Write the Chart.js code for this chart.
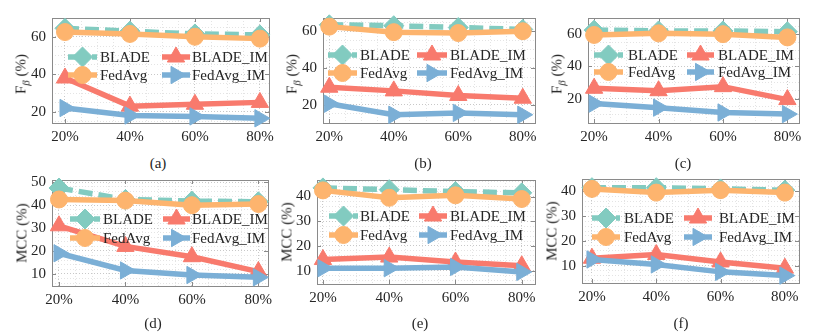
<!DOCTYPE html>
<html>
<head>
<meta charset="utf-8">
<script src="https://cdn.jsdelivr.net/npm/chart.js@4.4.0/dist/chart.umd.min.js"></script>
<style>
  body { margin: 0; background: #fff; width: 832px; height: 334px; position: relative; overflow: hidden; font-family: 'Liberation Serif', serif; color: #262626; }
  .panel { position: absolute; }
  .ytitle { position: absolute; transform: translate(-50%, -50%) rotate(-90deg); font-size: 15px; white-space: nowrap; }
  .ytitle sub { font-style: italic; font-size: 11px; }
  .caption { position: absolute; transform: translate(-50%, -50%); font-size: 15px; }
</style>
</head>
<body>
<script>
// Datos del gráfico
const etiquetasX = ['20%', '40%', '60%', '80%'];
const posicionesX = [20, 40, 60, 80];
const nombresSeries = ['BLADE', 'BLADE_IM', 'FedAvg', 'FedAvg_IM'];
const titulosPaneles = ['(a)', '(b)', '(c)', '(d)', '(e)', '(f)'];

// (a) F_beta
const bladeA = [64.5, 63, 61.5, 61];
const bladeImA = [38, 23, 24, 25];
const fedAvgA = [62.5, 61.5, 60, 59];
const fedAvgImA = [22, 18, 17.5, 16.5];
// (b) F_beta
const bladeB = [63.5, 63, 62, 61];
const bladeImB = [29.5, 27.5, 25, 23.5];
const fedAvgB = [62.5, 59.5, 59, 60];
const fedAvgImB = [20.5, 14.5, 15.5, 14.5];
// (c) F_beta
const bladeC = [62.5, 62, 62, 61.5];
const bladeImC = [26.5, 25, 27.5, 19.5];
const fedAvgC = [59.5, 60.5, 60, 58];
const fedAvgImC = [17, 14.5, 11.5, 10.5];
// (d) MCC
const bladeD = [47.5, 42.5, 41.8, 41.5];
const bladeImD = [31, 22, 17.5, 11];
const fedAvgD = [42.5, 42, 40, 40.5];
const fedAvgImD = [19, 11.5, 9.5, 8.5];
// (e) MCC
const bladeE = [43.5, 42.8, 42, 41.5];
const bladeImE = [14.5, 15.5, 13.5, 12];
const fedAvgE = [42.5, 39.5, 40.5, 39];
const fedAvgImE = [11, 11, 11.5, 9.5];
// (f) MCC
const bladeF = [41.5, 41.5, 41, 40.5];
const bladeImF = [13, 14.5, 11.5, 9];
const fedAvgF = [41, 39.5, 40.5, 39.5];
const fedAvgImF = [12.5, 10.5, 7.5, 6];

// Estilos de las series
const estilos = [
  { color: '#82cbc0', punto: 'rectRot', radio: 10, rot: 0, dash: [14, 6], orden: 4 },
  { color: '#f87a6d', punto: 'triangle', radio: 10, rot: 0, dash: [], orden: 3 },
  { color: '#fdb46e', punto: 'circle', radio: 8.5, rot: 0, dash: [], orden: 2 },
  { color: '#7bafd6', punto: 'triangle', radio: 10, rot: 90, dash: [], orden: 1 }
];

// Geometría de cada panel (área del gráfico en píxeles de la página)
const paneles = [
  { datos: [bladeA, bladeImA, fedAvgA, fedAvgImA], area: [52, 13, 269, 123], x: [16, 82.8], y: [14, 70], mayor: 20, menor: 5, titulo: 'F', leyenda: { c1: [16, 45, 48], c2: [110, 138, 140], filas: [39, 57] }, cap: [158, 163] },
  { datos: [bladeB, bladeImB, fedAvgB, fedAvgImB], area: [323, 13, 535, 123], x: [18.05, 83.8], y: [10, 67.2], mayor: 20, menor: 5, titulo: 'F', leyenda: { c1: [5, 34, 37], c2: [94, 124, 127], filas: [37, 55] }, cap: [423, 163] },
  { datos: [bladeC, bladeImC, fedAvgC, fedAvgImC], area: [588, 13, 799, 123], x: [18.1, 83.6], y: [5, 70], mayor: 20, menor: 5, titulo: 'F', leyenda: { c1: [6, 35, 40], c2: [99, 126, 130], filas: [37, 54] }, cap: [683, 163] },
  { datos: [bladeD, bladeImD, fedAvgD, fedAvgImD], area: [52, 175, 268, 286], x: [17.9, 82.9], y: [4.7, 51], mayor: 10, menor: 2, titulo: 'MCC', leyenda: { c1: [18, 48, 51], c2: [111, 138, 140], filas: [39, 58] }, cap: [153, 323] },
  { datos: [bladeE, bladeImE, fedAvgE, fedAvgImE], area: [317, 175, 535, 284], x: [18.2, 84], y: [4.6, 46.7], mayor: 10, menor: 2, titulo: 'MCC', leyenda: { c1: [12, 41, 43], c2: [102, 130, 133], filas: [36, 55] }, cap: [420, 323] },
  { datos: [bladeF, bladeImF, fedAvgF, fedAvgImF], area: [582, 174, 799, 283], x: [16.9, 84.4], y: [3, 45], mayor: 10, menor: 2, titulo: 'MCC', leyenda: { c1: [10, 38, 42], c2: [102, 130, 137], filas: [39, 58] }, cap: [681, 323] }
];

const PAD_IZQ = 48, PAD_SUP = 10, PAD_DER = 14, PAD_INF = 26;
const FUENTE = 'Liberation Serif';

function esMayor(v, paso) {
  return Math.abs(v - Math.round(v / paso) * paso) < 1e-6;
}

// Marcas fijas cada 'paso' dentro del rango del eje
function fijarMarcas(paso) {
  return s => {
    const marcas = [];
    for (let v = Math.ceil(s.min / paso) * paso; v <= s.max + 1e-9; v += paso) {
      marcas.push({ value: Math.round(v * 1000) / 1000 });
    }
    s.ticks = marcas;
  };
}

// Caja, marcas interiores y leyenda
const pluginCaja = {
  id: 'caja',
  beforeDatasetsDraw(chart) {
    const { ctx, chartArea: a } = chart;
    const sx = chart.scales.x, sy = chart.scales.y;
    ctx.save();
    ctx.strokeStyle = '#8a8a8a';
    ctx.lineWidth = 1;
    ctx.beginPath();
    posicionesX.forEach(v => {
      const px = Math.round(sx.getPixelForValue(v)) + 0.5;
      ctx.moveTo(px, a.bottom); ctx.lineTo(px, a.bottom - 4);
      ctx.moveTo(px, a.top); ctx.lineTo(px, a.top + 4);
    });
    sy.ticks.forEach(t => {
      if (!esMayor(t.value, chart.options.plugins.caja.mayor)) return;
      const py = Math.round(sy.getPixelForValue(t.value)) + 0.5;
      ctx.moveTo(a.left, py); ctx.lineTo(a.left + 4, py);
      ctx.moveTo(a.right, py); ctx.lineTo(a.right - 4, py);
    });
    ctx.stroke();
    ctx.strokeRect(Math.round(a.left) + 0.5, Math.round(a.top) + 0.5, Math.round(a.right - a.left), Math.round(a.bottom - a.top));
    ctx.restore();
  },
  afterDatasetsDraw(chart) {
    const { ctx, chartArea: a } = chart;
    const ley = chart.options.plugins.caja.leyenda;
    ctx.save();
    nombresSeries.forEach((nombre, i) => {
      const est = estilos[i];
      const col = i % 2 === 0 ? ley.c1 : ley.c2;
      const y = a.top + ley.filas[Math.floor(i / 2)];
      const x0 = a.left + col[0], x1 = a.left + col[1];
      ctx.strokeStyle = est.color;
      ctx.lineWidth = 5.5;
      ctx.setLineDash(est.dash.length ? [8, 4] : []);
      ctx.beginPath();
      ctx.moveTo(x0, y); ctx.lineTo(x1, y);
      ctx.stroke();
      ctx.setLineDash([]);
      ctx.fillStyle = est.color;
      ctx.lineWidth = 1;
      Chart.helpers.drawPoint(ctx, { pointStyle: est.punto, radius: est.radio, rotation: est.rot, borderWidth: 1 }, (x0 + x1) / 2, y);
      ctx.fillStyle = '#262626';
      ctx.font = '15px "' + FUENTE + '"';
      ctx.textBaseline = 'middle';
      ctx.textAlign = 'left';
      ctx.fillText(nombre, a.left + col[2], y + 1);
    });
    ctx.restore();
  }
};

paneles.forEach((p, k) => {
  const [l, t, r, b] = p.area;
  const w = r - l + PAD_IZQ + PAD_DER;
  const h = b - t + PAD_SUP + PAD_INF;
  const div = document.createElement('div');
  div.className = 'panel';
  div.style.left = (l - PAD_IZQ) + 'px';
  div.style.top = (t - PAD_SUP) + 'px';
  div.style.width = w + 'px';
  div.style.height = h + 'px';
  const canvas = document.createElement('canvas');
  canvas.width = w;
  canvas.height = h;
  div.appendChild(canvas);
  document.body.appendChild(div);

  // Título del eje Y
  const tit = document.createElement('div');
  tit.className = 'ytitle';
  tit.style.left = (l - 30) + 'px';
  tit.style.top = ((t + b) / 2 + (p.titulo === 'F' ? 6 : 2)) + 'px';
  tit.innerHTML = p.titulo === 'F' ? 'F<sub>β</sub> (%)' : 'MCC (%)';
  document.body.appendChild(tit);

  // Subtítulo del panel
  const cap = document.createElement('div');
  cap.className = 'caption';
  cap.style.left = p.cap[0] + 'px';
  cap.style.top = p.cap[1] + 'px';
  cap.textContent = titulosPaneles[k];
  document.body.appendChild(cap);

  const datasets = p.datos.map((serie, i) => ({
    label: nombresSeries[i],
    data: serie.map((v, j) => ({ x: posicionesX[j], y: v })),
    borderColor: estilos[i].color,
    backgroundColor: estilos[i].color,
    borderWidth: 5.5,
    borderDash: estilos[i].dash,
    pointStyle: estilos[i].punto,
    pointRadius: estilos[i].radio,
    pointRotation: estilos[i].rot,
    pointBorderWidth: 1,
    pointBackgroundColor: estilos[i].color,
    pointBorderColor: estilos[i].color,
    order: estilos[i].orden,
    clip: false,
    tension: 0
  }));

  new Chart(canvas, {
    type: 'line',
    data: { datasets },
    plugins: [pluginCaja],
    options: {
      responsive: false,
      animation: false,
      devicePixelRatio: 1,
      layout: { padding: { left: 0, top: PAD_SUP, right: PAD_DER, bottom: 0 } },
      plugins: {
        legend: { display: false },
        tooltip: { enabled: false },
        caja: { mayor: p.mayor, leyenda: p.leyenda }
      },
      scales: {
        x: {
          type: 'linear',
          min: p.x[0],
          max: p.x[1],
          afterBuildTicks: fijarMarcas(5),
          afterFit: s => { s.height = PAD_INF; },
          border: { display: false, dash: [1, 2] },
          grid: {
            drawTicks: false,
            lineWidth: 1,
            color: c => (c.tick && esMayor(c.tick.value, 20)) ? '#c8c8c8' : '#e4e4e4'
          },
          ticks: {
            autoSkip: false,
            maxRotation: 0,
            padding: 5,
            color: '#262626',
            font: { family: FUENTE, size: 15 },
            callback: v => {
              const i = posicionesX.indexOf(Math.round(v));
              return esMayor(v, 20) && i >= 0 ? etiquetasX[i] : '';
            }
          }
        },
        y: {
          min: p.y[0],
          max: p.y[1],
          afterBuildTicks: fijarMarcas(p.menor),
          afterFit: s => { s.width = PAD_IZQ; },
          border: { display: false, dash: [1, 2] },
          grid: {
            drawTicks: false,
            lineWidth: 1,
            color: c => (c.tick && esMayor(c.tick.value, p.mayor)) ? '#c8c8c8' : '#e4e4e4'
          },
          ticks: {
            autoSkip: false,
            padding: 6,
            color: '#262626',
            font: { family: FUENTE, size: 15 },
            callback: v => esMayor(v, p.mayor) ? String(Math.round(v)) : ''
          }
        }
      }
    }
  });
});
</script>
</body>
</html>
